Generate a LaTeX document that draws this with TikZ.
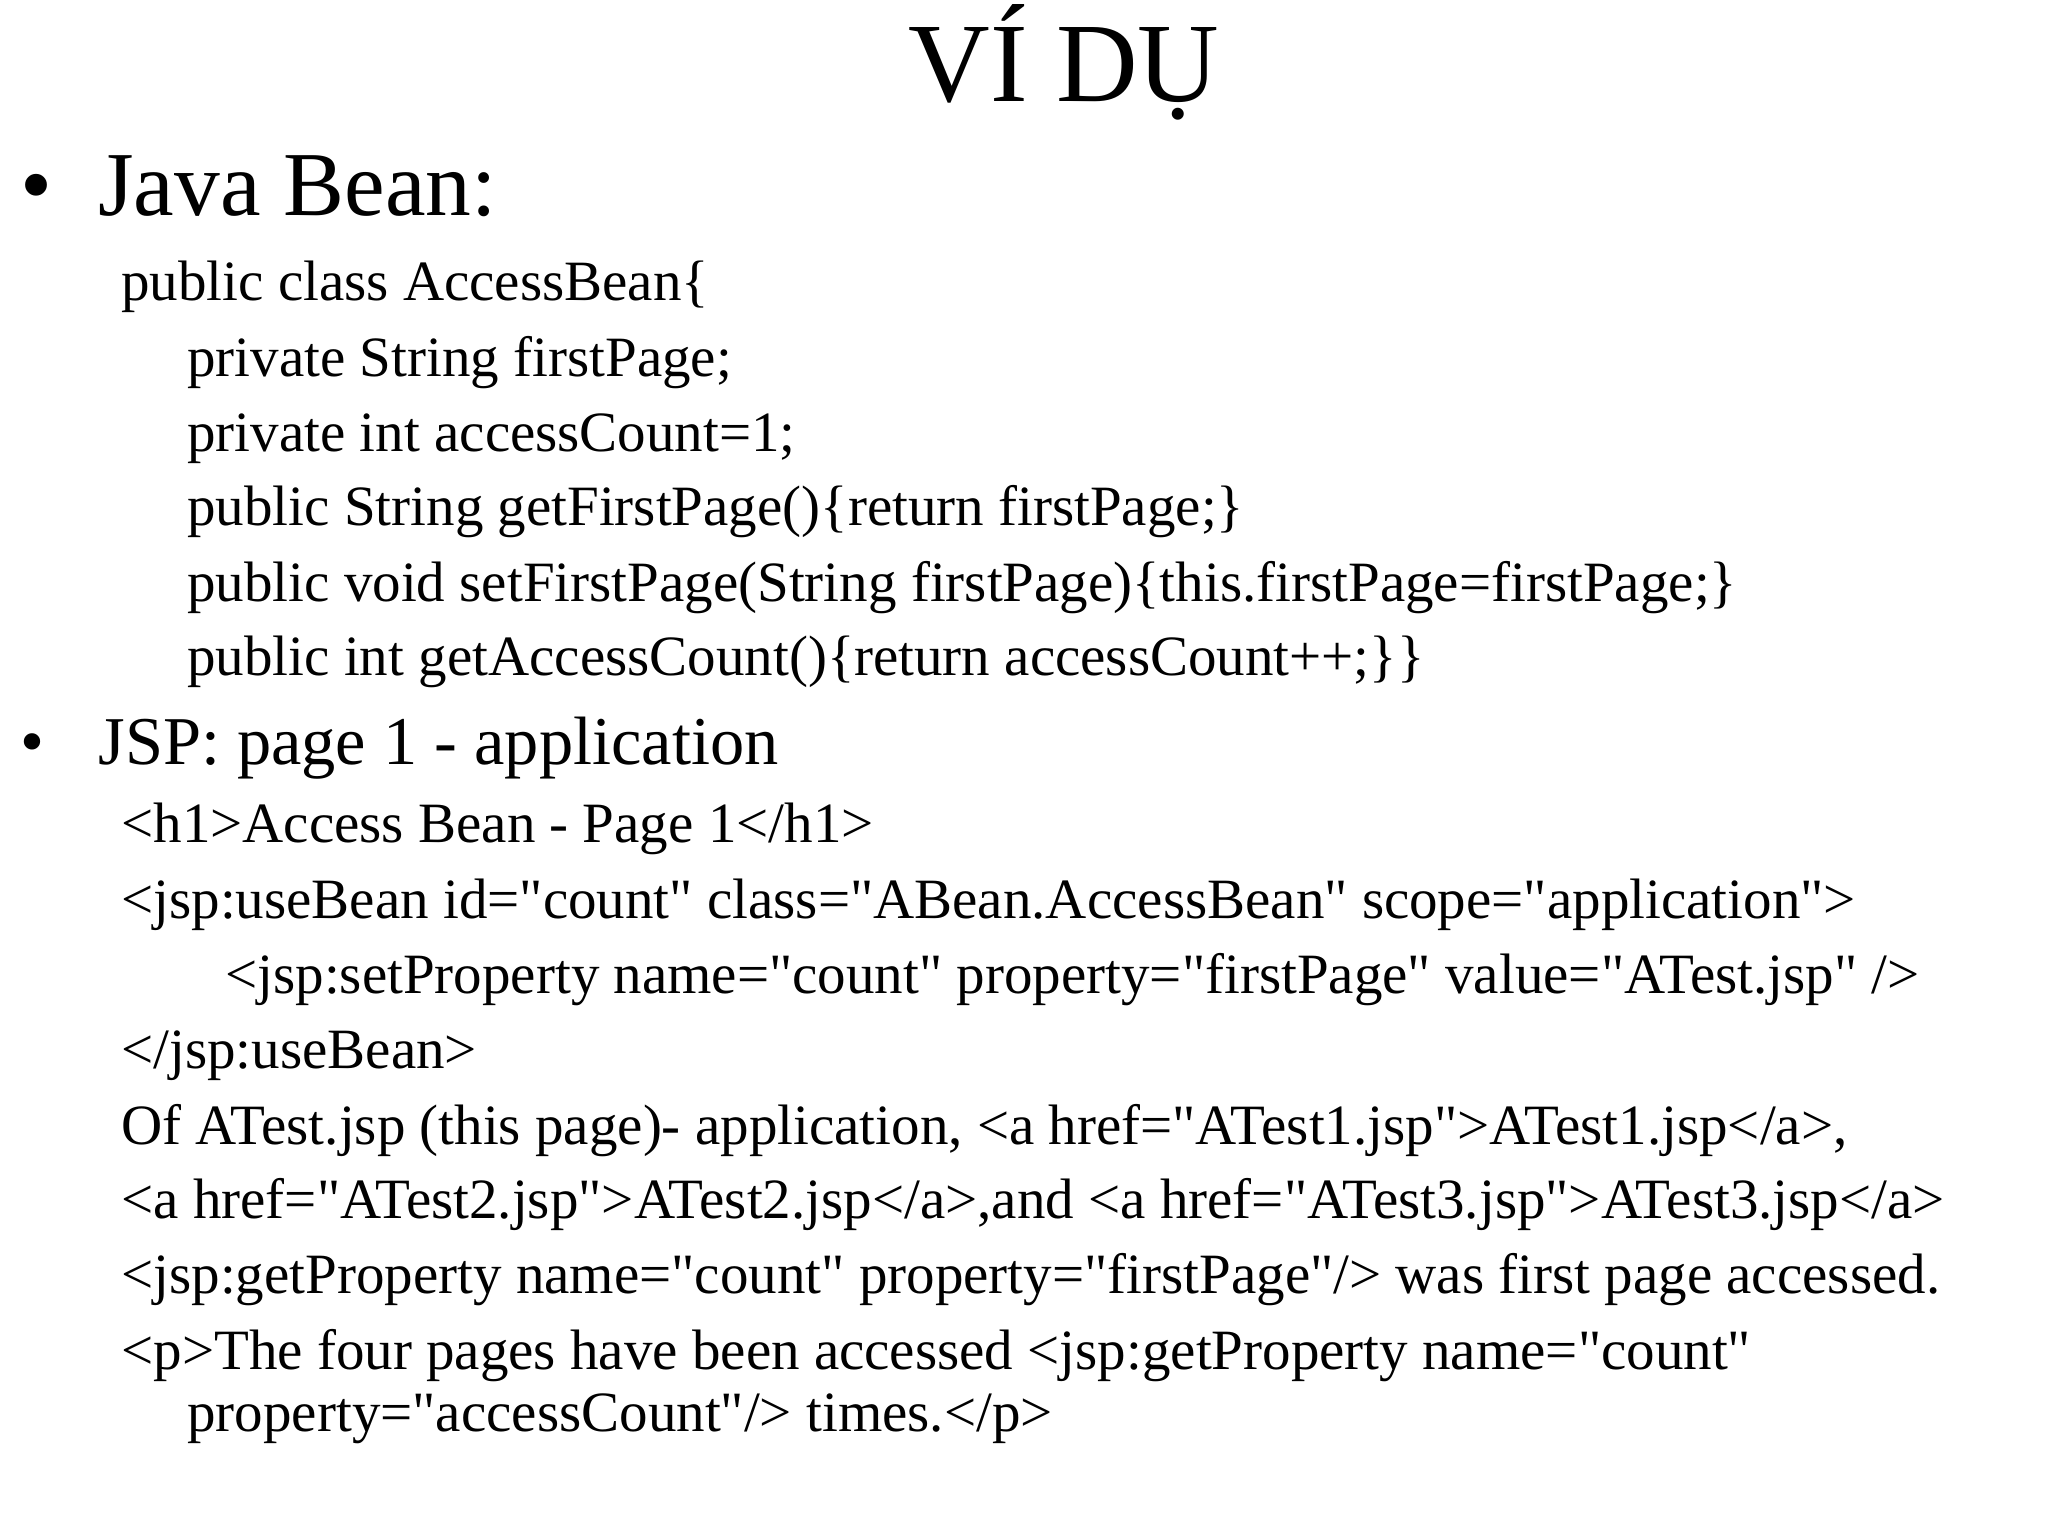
\documentclass[tikz,border=0pt]{standalone}
\usepackage{fontspec}
\setmainfont{Liberation Serif}[Ligatures=TeXOff]
\begin{document}
\begin{tikzpicture}[x=0.5pt,y=-0.5pt,
 code/.style={anchor=base west,inner sep=0pt,font=\fontsize{28.5}{33}\selectfont},
 head/.style={anchor=base west,inner sep=0pt,font=\fontsize{45.7}{52}\selectfont},
 sub/.style={anchor=base west,inner sep=0pt,font=\fontsize{34.2}{40}\selectfont}]
\useasboundingbox (0,0) rectangle (2048,1536);
\node[anchor=base,inner sep=0pt,font=\fontsize{56.5}{64}\selectfont] (t) at (1064,102) {VÍ DỤ};
\node[head] (b1) at (20,215) {•};
\node[head] (h1) at (98,215) {Java Bean:};
\node[code] (c1) at (121,300) {public class AccessBean\{};
\node[code] (c2) at (187,376) {private String firstPage;};
\node[code] (c3) at (187,451) {private int accessCount=1;};
\node[code] (c4) at (187,525) {public String getFirstPage()\{return firstPage;\}};
\node[code] (c5) at (187,601) {public void setFirstPage(String firstPage)\{this.firstPage=firstPage;\}};
\node[code] (c6) at (187,675) {public int getAccessCount()\{return accessCount++;\}\}};
\node[sub] (b2) at (20,764) {•};
\node[sub] (h2) at (98,764) {JSP: page 1 - application};
\node[code] (d1) at (121,842) {<h1>Access Bean - Page 1</h1>};
\node[code] (d2) at (121,918) {<jsp:useBean id="count" class="ABean.AccessBean" scope="application">};
\node[code] (d3) at (225,993) {<jsp:setProperty name="count" property="firstPage" value="ATest.jsp" />};
\node[code] (d4) at (121,1068) {</jsp:useBean>};
\node[code] (d5) at (121,1144) {Of ATest.jsp (this page)- application, <a href="ATest1.jsp">ATest1.jsp</a>,};
\node[code] (d6) at (121,1218) {<a href="ATest2.jsp">ATest2.jsp</a>,and <a href="ATest3.jsp">ATest3.jsp</a>};
\node[code] (d7) at (121,1293) {<jsp:getProperty name="count" property="firstPage"/> was first page accessed.};
\node[code] (d8) at (121,1369) {<p>The four pages have been accessed <jsp:getProperty name="count"};
\node[code] (d9) at (187,1431) {property="accessCount"/> times.</p>};
\end{tikzpicture}
\end{document}
